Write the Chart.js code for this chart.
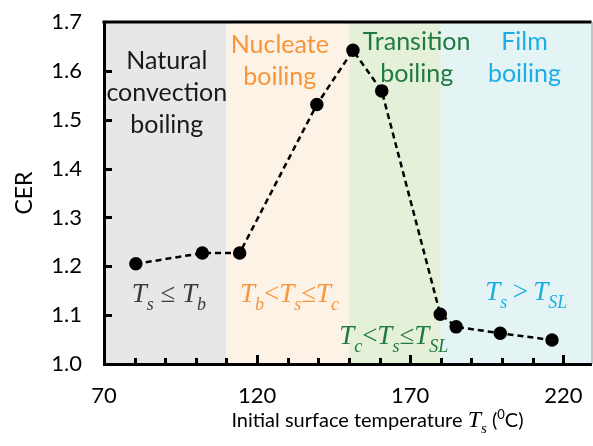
<!DOCTYPE html>
<html>
<head>
<meta charset="utf-8">
<script src="https://cdn.jsdelivr.net/npm/chart.js@4"></script>
<style>
  html, body { margin: 0; padding: 0; background: #fff; }
  #wrap { width: 593px; height: 446px; }
</style>
</head>
<body>
<div id="wrap"><canvas id="cerChart" width="593" height="446"></canvas></div>
<script>
// measured points (surface temperature in °C, CER)
const temps = [80.4, 102.1, 114.3, 139.5, 151.3, 160.7, 179.8, 185.0, 199.4, 216.3];
const cer = [1.205, 1.227, 1.227, 1.531, 1.642, 1.559, 1.102, 1.076, 1.063, 1.049];

// boiling regimes: [from, to]
const regimeNames = ["Natural convection boiling", "Nucleate boiling", "Transition boiling", "Film boiling"];
const regimeStart = [70, 110, 150, 180];
const regimeEnd = [110, 150, 180, 229.2];

const xMin = 70, xMax = 229.2;
const yMin = 1.0, yMax = 1.7;

const bandColors = ["#e6e7e9", "#fdf2e6", "#e5f0d9", "#e4f4f5"];
const textColors = ["#1a1a1a", "#f7963a", "#1f7a3f", "#1aaee8"];
const mathColors = ["#3a3a3a", "#f7963a", "#1f7a3f", "#1aaee8"];

// region titles: lines, center x (°C), first baseline (CER)
const regionText = [
  { lines: ["Natural", "convection", "boiling"], x: 90.5, y: 1.604 },
  { lines: ["Nucleate", "boiling"], x: 127.4, y: 1.637 },
  { lines: ["Transition", "boiling"], x: 172.1, y: 1.642 },
  { lines: ["Film", "boiling"], x: 207.3, y: 1.642 }
];

// conditions written under each regime, as runs: i = italic, s = subscript, r = upright
const mathText = [
  { runs: [["T", "i"], ["s", "s"], [" \u2264 ", "r"], ["T", "i"], ["b", "s"]], x: 91.2, y: 1.127 },
  { runs: [["T", "i"], ["b", "s"], ["<", "r"], ["T", "i"], ["s", "s"], ["\u2264", "r"], ["T", "i"], ["c", "s"]], x: 130.6, y: 1.126 },
  { runs: [["T", "i"], ["c", "s"], ["<", "r"], ["T", "i"], ["s", "s"], ["\u2264", "r"], ["T", "i"], ["SL", "s"]], x: 164.6, y: 1.041 },
  { runs: [["T", "i"], ["s", "s"], ["\u2009>\u2009", "r"], ["T", "i"], ["SL", "s"]], x: 207.9, y: 1.131 }
];

function runFont(kind, size) {
  const s = kind === "s" ? Math.round(size * 0.65) : size;
  const style = kind === "r" ? "" : "italic ";
  return style + s + "px 'Liberation Serif', 'Times New Roman', serif";
}

function drawRuns(ctx, runs, cx, base, size) {
  let total = 0;
  runs.forEach(r => { ctx.font = runFont(r[1], size); total += ctx.measureText(r[0]).width; });
  let x = cx - total / 2;
  runs.forEach(r => {
    ctx.font = runFont(r[1], size);
    ctx.fillText(r[0], x, r[1] === "s" ? base + 8 : base);
    x += ctx.measureText(r[0]).width;
  });
}

const boilingPlugin = {
  id: "boiling",
  beforeDraw(chart) {
    const { ctx, chartArea, scales } = chart;
    ctx.save();
    regimeStart.forEach((s, i) => {
      const x0 = scales.x.getPixelForValue(s);
      const x1 = scales.x.getPixelForValue(regimeEnd[i]);
      ctx.fillStyle = bandColors[i];
      ctx.fillRect(x0, chartArea.top, x1 - x0, chartArea.bottom - chartArea.top);
    });
    ctx.restore();
  },
  afterDraw(chart) {
    const { ctx, chartArea, scales } = chart;
    const xs = scales.x, ys = scales.y;
    ctx.save();

    // inward tick marks
    ctx.strokeStyle = "#000";
    ctx.lineWidth = 3;
    xs.ticks.forEach(t => {
      const px = Math.round(xs.getPixelForValue(t.value)) + 0.5;
      const major = Math.round(t.value - xMin) % 50 === 0;
      if (t.value === xMin) return;
      ctx.beginPath();
      ctx.moveTo(px, chartArea.bottom);
      ctx.lineTo(px, chartArea.bottom - (major ? 9 : 6));
      ctx.stroke();
    });
    ys.ticks.forEach(t => {
      if (t.value <= yMin + 1e-9 || t.value >= yMax - 1e-9) return;
      const py = Math.round(ys.getPixelForValue(t.value)) + 0.5;
      ctx.beginPath();
      ctx.moveTo(chartArea.left, py);
      ctx.lineTo(chartArea.left + 8, py);
      ctx.stroke();
    });

    // top frame line and thin right edge
    ctx.beginPath();
    ctx.moveTo(chartArea.left - 1.5, chartArea.top);
    ctx.lineTo(chartArea.right, chartArea.top);
    ctx.stroke();
    ctx.strokeStyle = "#8c8c8c";
    ctx.lineWidth = 1;
    ctx.beginPath();
    ctx.moveTo(chartArea.right + 0.5, chartArea.top);
    ctx.lineTo(chartArea.right + 0.5, chartArea.bottom);
    ctx.stroke();

    // regime names
    ctx.textAlign = "center";
    ctx.textBaseline = "alphabetic";
    ctx.font = "25px Lato, 'Open Sans', sans-serif";
    regionText.forEach((r, i) => {
      ctx.fillStyle = textColors[i];
      const cx = xs.getPixelForValue(r.x);
      const by = ys.getPixelForValue(r.y);
      r.lines.forEach((line, k) => ctx.fillText(line, cx, by + k * 32));
    });

    // regime conditions
    ctx.textAlign = "left";
    mathText.forEach((m, i) => {
      ctx.fillStyle = mathColors[i];
      drawRuns(ctx, m.runs, xs.getPixelForValue(m.x), ys.getPixelForValue(m.y), 27);
    });

    // x axis title with italic T_s and superscript 0
    const base = chartArea.bottom + 63;
    const parts = [
      ["Initial surface temperature ", "20px Lato, sans-serif", 0],
      ["T", "italic 24px 'Liberation Serif', serif", 0],
      ["s", "italic 15px 'Liberation Serif', serif", 6],
      [" (", "20px Lato, sans-serif", 0],
      ["0", "13px Lato, sans-serif", -8],
      ["C)", "20px Lato, sans-serif", 0]
    ];
    let total = 0;
    parts.forEach(p => { ctx.font = p[1]; total += ctx.measureText(p[0]).width; });
    let x = xs.getPixelForValue(159.3) - total / 2;
    ctx.fillStyle = "#000";
    parts.forEach(p => {
      ctx.font = p[1];
      ctx.fillText(p[0], x, base + p[2]);
      x += ctx.measureText(p[0]).width;
    });
    ctx.restore();
  }
};

new Chart(document.getElementById("cerChart"), {
  type: "scatter",
  data: {
    datasets: [{
      data: temps.map((t, i) => ({ x: t, y: cer[i] })),
      showLine: true,
      borderColor: "#000",
      borderWidth: 2.5,
      borderDash: [6, 4],
      pointRadius: 5.5,
      pointBackgroundColor: "#000",
      pointBorderColor: "#000",
      tension: 0
    }]
  },
  options: {
    responsive: false,
    animation: false,
    layout: { autoPadding: false, padding: { top: 22, right: 1.5, left: 0, bottom: 0 } },
    plugins: { legend: { display: false }, tooltip: { enabled: false } },
    scales: {
      x: {
        type: "linear",
        min: xMin,
        max: xMax,
        afterFit: s => { s.height = 82; s.paddingLeft = 0; s.paddingRight = 0; },
        border: { display: true, color: "#000", width: 3 },
        grid: { display: false, drawTicks: false },
        ticks: {
          stepSize: 10,
          includeBounds: false,
          padding: 19,
          maxRotation: 0,
          autoSkip: false,
          color: "#000",
          font: { family: "Lato", size: 22 },
          callback: v => (Math.round(v - xMin) % 50 === 0 ? String(Math.round(v)) : "")
        }
      },
      y: {
        min: yMin,
        max: yMax,
        afterFit: s => { s.width = 104; s.paddingTop = 0; s.paddingBottom = 0; },
        border: { display: true, color: "#000", width: 3 },
        grid: { display: false, drawTicks: false },
        title: {
          display: true,
          text: "CER",
          color: "#000",
          font: { family: "Lato", size: 23 },
          padding: { top: 11, bottom: 0 }
        },
        ticks: {
          stepSize: 0.1,
          padding: 22,
          color: "#000",
          font: { family: "Lato", size: 22 },
          callback: v => v.toFixed(1)
        }
      }
    }
  },
  plugins: [boilingPlugin]
});
</script>
</body>
</html>
